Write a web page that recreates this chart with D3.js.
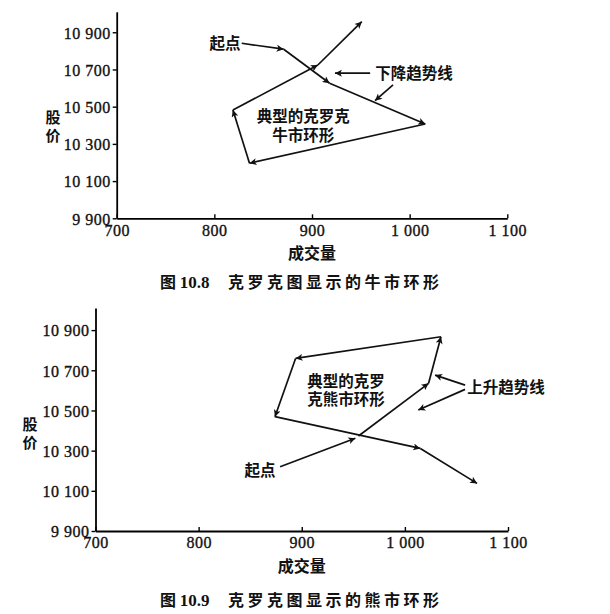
<!DOCTYPE html>
<html lang="zh">
<head>
<meta charset="UTF-8">
<title>克罗克图</title>
<script src="https://d3js.org/d3.v7.min.js"></script>
<style>
    body { margin: 0; background: #fff; }
    .tick text { font-family: "Liberation Serif", serif; font-size: 16px; letter-spacing: 0.5px; fill: #111; stroke: #111; stroke-width: 0.35px; }
    .cn { font-family: "Noto Sans CJK SC", sans-serif; font-weight: 700; fill: #111; }
</style>
</head>
<body>
<div id="chart"></div>
<script>
    // tick values shared by both charts
    const volumeTicks = [700, 800, 900, 1000, 1100];
    const priceTicks = [9900, 10100, 10300, 10500, 10700, 10900];

    // 图 10.8 牛市环形 (volume, price)
    const bullVolume = [871, 918, 1016, 836, 819, 906, 951];
    const bullPrice = [10809, 10626, 10407, 10196, 10482, 10724, 10957];

    // 图 10.9 熊市环形
    const bearVolume = [955, 1023, 1035, 894, 874, 1015, 1070];
    const bearPrice = [10373, 10635, 10867, 10759, 10469, 10311, 10137];

    const W = 610, H = 614;
    const svg = d3.select('#chart').append('svg')
        .attr('width', W)
        .attr('height', H);

    // arrowhead
    svg.append('defs').append('marker')
        .attr('id', 'arrow')
        .attr('markerUnits', 'userSpaceOnUse')
        .attr('viewBox', '0 0 10 10')
        .attr('refX', 10).attr('refY', 5)
        .attr('markerWidth', 10).attr('markerHeight', 7)
        .attr('orient', 'auto')
      .append('path')
        .attr('d', 'M0,0 L10,5 L0,10 L2.5,5 z')
        .attr('fill', '#111');

    const fmt = d3.formatLocale({decimal: '.', thousands: ' ', grouping: [3], currency: ['', '']}).format(',');

    function drawChart(cfg) {
        const x = d3.scaleLinear().domain([700, 1100]).range([cfg.left, cfg.right]);
        const y = d3.scaleLinear().domain([9900, 11010]).range([cfg.bottom, cfg.top]);
        const g = svg.append('g');

        // axes
        g.append('g')
            .attr('transform', `translate(0, ${cfg.bottom})`)
            .call(d3.axisBottom(x).tickValues(volumeTicks).tickFormat(fmt).tickSizeInner(-4).tickSizeOuter(0).tickPadding(6))
            .call(a => a.select('.domain').attr('stroke-width', 1.8))
            .call(a => a.selectAll('.tick line').attr('stroke-width', 1.4));
        g.append('g')
            .attr('transform', `translate(${cfg.left}, 0)`)
            .call(d3.axisLeft(y).tickValues(priceTicks).tickFormat(fmt).tickSizeInner(4).tickSizeOuter(0).tickPadding(2))
            .call(a => a.select('.domain').attr('stroke-width', 1.8))
            .call(a => a.selectAll('.tick line').attr('stroke-width', 1.4))
            .call(a => a.selectAll('.tick text').attr('dy', '0.36em'));

        // axis titles
        g.append('text').attr('class', 'cn')
            .attr('x', x(900)).attr('y', cfg.bottom + 41)
            .attr('text-anchor', 'middle').attr('font-size', 16)
            .text('成交量');
        g.append('text').attr('class', 'cn')
            .attr('text-anchor', 'middle').attr('font-size', 15)
            .selectAll('tspan').data(['股', '价']).join('tspan')
            .attr('x', cfg.yLabelX)
            .attr('y', (d, i) => cfg.yLabelY + i * 18)
            .text(d => d);

        // loop segments, arrow at each end
        const pts = cfg.volume.map((v, i) => [x(v), y(cfg.price[i])]);
        g.append('g').selectAll('line')
            .data(d3.pairs(pts))
            .join('line')
            .attr('x1', d => d[0][0]).attr('y1', d => d[0][1])
            .attr('x2', d => d[1][0]).attr('y2', d => d[1][1])
            .attr('stroke', '#111')
            .attr('stroke-width', 1.7)
            .attr('marker-end', 'url(#arrow)');

        // pointer arrows
        g.append('g').selectAll('line')
            .data(cfg.pointers)
            .join('line')
            .attr('x1', d => x(d[0])).attr('y1', d => y(d[1]))
            .attr('x2', d => x(d[2])).attr('y2', d => y(d[3]))
            .attr('stroke', '#111')
            .attr('stroke-width', 1.7)
            .attr('marker-end', 'url(#arrow)');

        // notes
        cfg.notes.forEach(n => {
            g.append('text').attr('class', 'cn')
                .attr('text-anchor', 'middle')
                .attr('font-size', 15.5)
                .selectAll('tspan').data(n.lines).join('tspan')
                .attr('x', x(n.v))
                .attr('y', (d, i) => y(n.p) + 6 + i * 18.5)
                .text(d => d);
        });

        // caption
        const cap = g.append('text').attr('class', 'cn')
            .attr('x', 160).attr('y', cfg.captionY)
            .attr('font-size', 16);
        cap.append('tspan').text('图 ');
        cap.append('tspan').attr('font-family', '"Liberation Serif", serif').attr('font-size', 17).text(cfg.figNo);
        cap.append('tspan').attr('x', 228).attr('letter-spacing', 3.5).text(cfg.caption);
    }

    drawChart({
        left: 116.7, right: 507.3, bottom: 218.3, top: 11.8,
        yLabelX: 53, yLabelY: 123,
        volume: bullVolume, price: bullPrice,
        pointers: [
            [828, 10841, 871, 10809],
            [959.5, 10680, 923.5, 10680],
            [983, 10617, 964.5, 10532]
        ],
        notes: [
            {v: 811, p: 10841, lines: ['起点']},
            {v: 1004.5, p: 10680, lines: ['下降趋势线']},
            {v: 891, p: 10448, lines: ['典型的克罗克', '牛市环形']}
        ],
        captionY: 288, figNo: '10.8', caption: '克罗克图显示的牛市环形'
    });

    drawChart({
        left: 95.5, right: 508, bottom: 531, top: 308,
        yLabelX: 30, yLabelY: 430,
        volume: bearVolume, price: bearPrice,
        pointers: [
            [879, 10220, 952, 10362],
            [1058.4, 10626, 1029.3, 10676],
            [1058.4, 10605, 1013, 10502]
        ],
        notes: [
            {v: 859.6, p: 10203, lines: ['起点']},
            {v: 1098, p: 10619, lines: ['上升趋势线']},
            {v: 943, p: 10648, lines: ['典型的克罗', '克熊市环形']}
        ],
        captionY: 606, figNo: '10.9', caption: '克罗克图显示的熊市环形'
    });
</script>
</body>
</html>
